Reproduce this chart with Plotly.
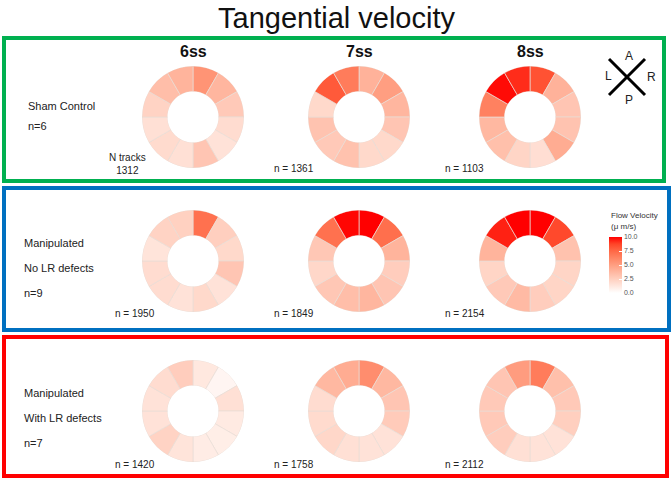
import plotly.graph_objects as go

W, H = 672, 481

# ---------------- data ----------------
stages = ["6ss", "7ss", "8ss"]
sector_theta = [15 + 30 * i for i in range(12)]  # sector centres, clockwise from anterior

# flow velocity (um/s) per sector, clockwise from 12 o'clock
sham_6ss = [5.5, 3.8, 2.8, 1.8, 1.5, 3.0, 1.6, 1.9, 1.6, 2.3, 3.4, 3.9]
sham_7ss = [4.0, 5.0, 3.8, 3.0, 2.0, 2.0, 3.2, 2.8, 3.1, 2.0, 8.0, 6.6]
sham_8ss = [8.3, 4.0, 3.0, 3.1, 4.3, 1.7, 2.2, 3.3, 3.7, 6.4, 9.8, 9.2]

nolr_6ss = [7.1, 2.5, 2.0, 3.0, 1.5, 2.0, 1.5, 1.8, 1.8, 1.4, 2.3, 2.4]
nolr_7ss = [10.0, 7.2, 3.9, 2.6, 3.0, 3.8, 3.4, 2.9, 2.1, 2.9, 7.1, 9.9]
nolr_8ss = [10.0, 8.6, 3.2, 2.2, 2.2, 2.6, 3.6, 2.8, 2.2, 3.9, 9.4, 10.0]

withlr_6ss = [1.2, 0.5, 1.6, 1.1, 0.9, 1.0, 1.4, 2.3, 1.5, 1.5, 1.8, 2.6]
withlr_7ss = [5.8, 3.7, 3.0, 2.7, 1.5, 1.5, 1.6, 2.1, 1.9, 1.8, 3.7, 4.3]
withlr_8ss = [6.6, 3.3, 2.8, 2.5, 1.5, 1.5, 1.6, 2.6, 2.8, 2.8, 3.0, 5.1]

panels = [
    [sham_6ss, sham_7ss, sham_8ss],
    [nolr_6ss, nolr_7ss, nolr_8ss],
    [withlr_6ss, withlr_7ss, withlr_8ss],
]

row_labels = [["Sham Control", "n=6"],
              ["Manipulated", "No LR defects", "n=9"],
              ["Manipulated", "With LR defects", "n=7"]]
track_labels = [["N tracks<br>1312", "n = 1361", "n = 1103"],
                ["n = 1950", "n = 1849", "n = 2154"],
                ["n = 1420", "n = 1758", "n = 2112"]]

cbar_ticks = [0, 2.5, 5, 7.5, 10]

# white -> red gradient (Lab interpolation as in ggplot)
colorscale = [[0, "#FFFFFF"], [0.125, "#FFE7DE"], [0.25, "#FFCFBF"],
              [0.375, "#FFB7A0"], [0.5, "#FF9E81"], [0.625, "#FF8463"],
              [0.75, "#FF6846"], [0.875, "#FF4528"], [1, "#FF0000"]]

# ---------------- layout helpers (pixel coords) ----------------
col_cx = [193, 359, 530]
row_cy = [117, 261, 411]
R = 51


def fx(px):
    return px / W


def fy(py):
    return 1 - py / H


fig = go.Figure()
layout_polars = {}
k = 0
for r in range(3):
    for c in range(3):
        k += 1
        name = "polar" if k == 1 else f"polar{k}"
        vals = panels[r][c]
        fig.add_trace(go.Barpolar(
            r=[1] * len(vals),
            theta=sector_theta,
            width=[30] * len(vals),
            marker=dict(
                color=vals, colorscale=colorscale, cmin=0, cmax=10,
                line=dict(color="#E8DCD6", width=0.7),
                showscale=(k == 1),
                colorbar=dict(
                    tickvals=cbar_ticks, ticktext=[f"{t:.1f}" for t in cbar_ticks],
                    tickfont=dict(size=7, color="#555"),
                    thickness=13, thicknessmode="pixels",
                    len=56, lenmode="pixels",
                    x=fx(609), xanchor="left", y=fy(265), yanchor="middle",
                    xpad=0, ypad=0,
                    outlinewidth=0, ticks="inside", ticklen=3, tickcolor="white",
                ),
            ),
            hovertemplate="%{marker.color:.1f} \u03bcm/s<extra></extra>",
            subplot=name,
        ))
        cx, cy = col_cx[c], row_cy[r]
        layout_polars[name] = dict(
            domain=dict(x=[fx(cx - R), fx(cx + R)], y=[fy(cy + R), fy(cy - R)]),
            hole=0.5,
            bgcolor="rgba(0,0,0,0)",
            radialaxis=dict(visible=False, range=[0, 1]),
            angularaxis=dict(visible=False, rotation=90, direction="clockwise"),
        )

fig.update_layout(**layout_polars)

annotations = []
font_family = "Liberation Sans, Arial, sans-serif"


def txt(text, px, py, size, anchor="center", color="#222", align="left"):
    annotations.append(dict(text=text, x=fx(px), y=fy(py), xref="paper", yref="paper",
                            showarrow=False, font=dict(size=size, color=color),
                            xanchor=anchor, yanchor="middle", align=align))


# title
txt("Tangential velocity", 336, 18, 29, color="#111")
# stage headers
for c, s in enumerate(stages):
    txt(f"<b>{s}</b>", col_cx[c], 51, 16, color="#111")
# row labels
row_label_y = [[106, 126], [243, 268, 293], [393, 418, 443]]
row_label_x = [26, 22, 22]
for r in range(3):
    for lab, yy in zip(row_labels[r], row_label_y[r]):
        txt(lab, row_label_x[r], yy, 11, anchor="left")
# track counts
track_y = [168, 313, 464]
track_x = [113, 272, 443]
for r in range(3):
    for c in range(3):
        lab = track_labels[r][c]
        if r == 0 and c == 0:
            txt(lab, 127, 164, 10, anchor="center", align="center")
        else:
            txt(lab, track_x[c], track_y[r], 10, anchor="left")
# colorbar title
txt("Flow Velocity", 609, 215, 8, anchor="left", color="#333")
txt("(\u03bc m/s)", 609, 226, 8, anchor="left", color="#333")
# compass labels
for lab, (px, py) in zip(["A", "L", "R", "P"], [(629, 56), (608, 76), (651, 77), (629, 100)]):
    txt(lab, px, py, 12)

shapes = []
# group boxes
for (x0, y0, x1, y1, col) in [(4, 38, 664, 181, "#00B050"),
                              (4, 188, 669, 330, "#0070C0"),
                              (4, 337, 667, 476, "#FF0000")]:
    shapes.append(dict(type="rect", xref="paper", yref="paper",
                       x0=fx(x0), x1=fx(x1), y0=fy(y1), y1=fy(y0),
                       line=dict(color=col, width=4), fillcolor="rgba(0,0,0,0)"))
# compass cross
shapes.append(dict(type="line", xref="paper", yref="paper", x0=fx(609), y0=fy(59), x1=fx(645), y1=fy(95),
                   line=dict(color="black", width=3)))
shapes.append(dict(type="line", xref="paper", yref="paper", x0=fx(609), y0=fy(95), x1=fx(645), y1=fy(59),
                   line=dict(color="black", width=3)))

fig.update_layout(
    width=W, height=H, autosize=False,
    margin=dict(l=0, r=0, t=0, b=0),
    paper_bgcolor="white", plot_bgcolor="white",
    font=dict(family=font_family, color="#222"),
    annotations=annotations, shapes=shapes,
    showlegend=False,
)

fig.write_html("out.html", config={"displayModeBar": False},
               post_script="document.body.style.margin='0';document.body.style.overflow='hidden';")
